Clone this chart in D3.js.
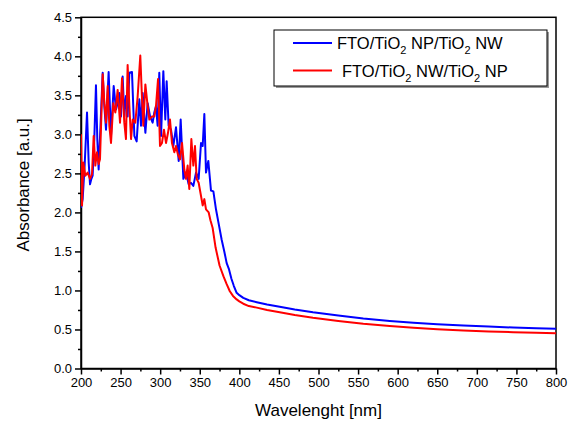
<!DOCTYPE html>
<html><head><meta charset="utf-8">
<script src="https://cdn.jsdelivr.net/npm/d3@7"></script>
<style>body{margin:0;background:#fff}svg{display:block}text{font-family:"Liberation Sans",Arial,sans-serif}</style>
</head><body><svg id="c" width="570" height="423"></svg>
<script>
const blueWl = [200,202.1,204.6,207.6,209.7,211.4,213.1,214.7,216.8,218.9,220.6,222.3,224.8,227.4,229.5,231.6,234.9,237.9,241.3,244.2,246.3,248.4,250.5,252.6,254.7,256.8,258.9,261.1,264.4,267.4,270.3,273.7,275.8,277.9,281.3,284.2,287.2,290.5,292.6,294.7,296.8,298.9,301.1,302.3,304,306.5,308.2,310.7,313.7,316.6,320,323.4,325.9,329.3,332.6,336,338.9,341.9,345.3,348.6,351.6,353.7,355.8,357.9,360.8,364.2,367.2,370.5,374,377.7,381,384,387,390,393,396.6,400,405,412,422,435,451,470,493,525,556.6,590,620,650,683,715,746,775,800];
const blueAbs = [2.06,2.17,2.60,3.28,2.64,2.36,2.43,2.47,2.94,3.63,2.94,2.55,3.15,3.79,3.36,3.06,3.80,2.98,3.62,3.32,3.40,3.53,3.23,3.74,3.23,3.49,3.23,3.79,3.80,2.98,2.91,3.45,3.11,3.53,3.02,3.40,3.23,3.15,3.28,3.36,3.11,3.79,2.98,3.32,3.81,3.19,3.68,3.11,3.06,2.85,3.09,2.66,3.19,2.43,2.51,2.36,2.38,2.34,2.51,2.43,2.89,2.85,3.26,2.51,2.66,2.28,2.27,2.04,1.85,1.65,1.50,1.35,1.27,1.15,1.06,0.97,0.94,0.905,0.875,0.85,0.82,0.79,0.755,0.72,0.68,0.64,0.61,0.586,0.567,0.55,0.537,0.525,0.516,0.51];
const redWl = [200,201.3,202.9,205.5,208.4,211.4,213.9,216,218.1,220.2,222.3,224,227.4,229.5,231.6,233.7,235.8,237.9,240.8,243.4,246.3,249.3,251.8,254.7,256.8,258.9,261.1,263.2,265.3,268.6,271.6,274.9,277.1,278.7,281.3,283.8,286.3,289.7,292.6,294.7,297.3,299.8,302.3,304.8,307.4,309.9,312.4,314.9,317.9,320,322.5,325.1,327.6,330.5,332.6,334.7,336.8,339.4,341.9,344,346.1,348.6,351.6,353.7,355.8,357.9,361.3,363.5,366.3,370,375,380,384,388,392,396.6,400,405,412,422,435,451,470,493,525,556.6,590,620,650,683,715,746,775,800];
const redAbs = [3.00,2.09,2.64,2.47,2.51,2.43,2.49,2.98,2.60,2.77,2.62,2.68,3.77,3.40,3.15,3.62,3.11,2.89,3.40,3.28,3.57,3.15,3.72,3.15,2.94,3.89,3.36,2.94,3.19,3.15,3.49,4.01,3.45,3.11,3.64,3.40,3.19,3.23,3.23,3.36,3.71,2.85,2.89,3.06,2.89,3.02,3.19,2.89,2.77,2.85,2.74,2.68,2.89,2.55,2.43,2.60,2.30,2.94,2.60,2.85,2.43,2.38,2.21,2.09,2.17,2.04,2.00,1.90,1.80,1.55,1.32,1.18,1.08,0.99,0.93,0.885,0.86,0.83,0.80,0.78,0.75,0.72,0.685,0.65,0.61,0.573,0.545,0.522,0.503,0.487,0.475,0.465,0.458,0.452];
const xTicks = [200,250,300,350,400,450,500,550,600,650,700,750,800];
const yTicks = [0.0,0.5,1.0,1.5,2.0,2.5,3.0,3.5,4.0,4.5];
const seriesNames = [["FTO/TiO","2"," NP/TiO","2"," NW"],["FTO/TiO","2"," NW/TiO","2"," NP"]];
const colors = ["#0000ff","#ff0000"];

const svg = d3.select("#c");
const L=81, R=556, T=17.3, B=368.5;
const x = d3.scaleLinear().domain([200,800]).range([L,R]);
const y = d3.scaleLinear().domain([0,4.5]).range([B,T]);

const xMinor = d3.range(225,800,50);
const yMinor = d3.range(0.25,4.5,0.5);
const xAx = d3.axisBottom(x).tickValues(xTicks).tickFormat(d3.format("d")).tickSize(6).tickSizeOuter(0).tickPadding(3);
const yAx = d3.axisLeft(y).tickValues(yTicks).tickFormat(d3.format(".1f")).tickSize(6).tickSizeOuter(0).tickPadding(3);
svg.append("g").attr("transform",`translate(0,${B})`).call(xAx);
svg.append("g").attr("transform",`translate(${L},0)`).call(yAx);
svg.append("g").attr("transform",`translate(0,${B})`).call(d3.axisBottom(x).tickValues(xMinor).tickFormat("").tickSize(3).tickSizeOuter(0)).select(".domain").remove();
svg.append("g").attr("transform",`translate(${L},0)`).call(d3.axisLeft(y).tickValues(yMinor).tickFormat("").tickSize(3).tickSizeOuter(0)).select(".domain").remove();
svg.selectAll(".tick line").attr("stroke","#000").attr("stroke-width",1.5);
svg.selectAll(".domain").attr("stroke","#000").attr("stroke-width",1.5);
svg.selectAll(".tick text").attr("font-size",13).attr("fill","#000").style("font-family","'Liberation Sans',Arial,sans-serif");

svg.append("rect").attr("x",L).attr("y",T).attr("width",R-L).attr("height",B-T).attr("fill","none").attr("stroke","#000").attr("stroke-width",1.5);

const line = d3.line().x(d=>x(d[0])).y(d=>y(d[1]));
const data = [d3.zip(blueWl,blueAbs), d3.zip(redWl,redAbs)];
svg.append("clipPath").attr("id","pc").append("rect").attr("x",L).attr("y",T).attr("width",R-L).attr("height",B-T);
data.forEach((d,i)=>{
  svg.append("path").datum(d).attr("d",line).attr("fill","none").attr("stroke",colors[i]).attr("stroke-width",2).attr("stroke-linejoin","round").attr("clip-path","url(#pc)");
});

svg.append("text").attr("x",(L+R)/2).attr("y",416).attr("text-anchor","middle").attr("font-size",17).text("Wavelenght [nm]");
svg.append("text").attr("transform",`translate(29,${(T+B)/2-8}) rotate(-90)`).attr("text-anchor","middle").attr("font-size",17).text("Absorbance [a.u.]");

const lg = svg.append("g");
lg.append("rect").attr("x",276).attr("y",32).attr("width",273).attr("height",56).attr("fill","#999");
lg.append("rect").attr("x",274).attr("y",30).attr("width",273).attr("height",56).attr("fill","#fff").attr("stroke","#000").attr("stroke-width",1);
const ly = [43,70.5], lx=[337,342];
seriesNames.forEach((parts,i)=>{
  lg.append("line").attr("x1",293).attr("x2",332).attr("y1",ly[i]).attr("y2",ly[i]).attr("stroke",colors[i]).attr("stroke-width",2);
  const t = lg.append("text").attr("x",lx[i]).attr("y",ly[i]+6.3).attr("font-size",16.5);
  parts.forEach((p,j)=>{
    if(j%2===1){ t.append("tspan").attr("font-size",11).attr("dy",5).text(p); }
    else { const s=t.append("tspan").text(p); if(j>0) s.attr("dy",-5); }
  });
});
</script></body></html>
